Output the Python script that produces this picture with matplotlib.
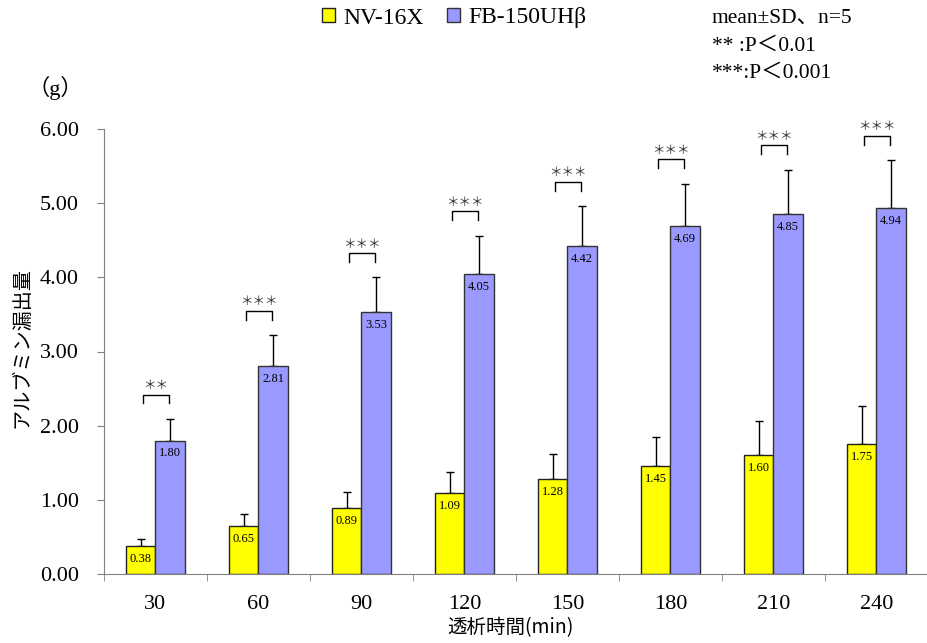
import matplotlib
matplotlib.use('Agg')
import matplotlib.pyplot as plt
import numpy as np

# data
times = ['30', '60', '90', '120', '150', '180', '210', '240']
nv_mean = [0.38, 0.65, 0.89, 1.09, 1.28, 1.45, 1.60, 1.75]
nv_sd = [0.09, 0.16, 0.21, 0.28, 0.34, 0.40, 0.46, 0.51]
fb_mean = [1.80, 2.81, 3.53, 4.05, 4.42, 4.69, 4.85, 4.94]
fb_sd = [0.29, 0.41, 0.47, 0.51, 0.54, 0.57, 0.60, 0.64]
signif = ['＊＊', '＊＊＊', '＊＊＊', '＊＊＊', '＊＊＊', '＊＊＊', '＊＊＊', '＊＊＊']

serif = ['Liberation Serif', 'Noto Sans CJK JP']
gothic = ['Noto Sans CJK JP', 'DejaVu Sans']
plt.rcParams['font.family'] = serif

fig = plt.figure(figsize=(9.28, 6.43), dpi=100)
ax = fig.add_axes([104/928, 69/643, 824/928, 445/643])

x = np.arange(len(times))
w = 0.284
yellow = '#FFFF00'
blue = '#9999FF'

b1 = ax.bar(x - w/2, nv_mean, w, color=yellow, edgecolor='#222222', linewidth=1.0,
            label='NV-16X', zorder=2)
b2 = ax.bar(x + w/2, fb_mean, w, color=blue, edgecolor='#333333', linewidth=1.0,
            label='FB-150UHβ', zorder=2)
ax.errorbar(x - w/2, nv_mean, yerr=[np.zeros(len(x)), nv_sd], fmt='none',
            ecolor='black', elinewidth=1, capsize=3, capthick=1, zorder=1)
ax.errorbar(x + w/2, fb_mean, yerr=[np.zeros(len(x)), fb_sd], fmt='none',
            ecolor='black', elinewidth=1, capsize=3, capthick=1, zorder=1)

for i in range(len(x)):
    ax.annotate('%.2f' % nv_mean[i], (x[i] - w/2, nv_mean[i]), xytext=(0, -5),
                textcoords='offset points', ha='center', va='top', fontsize=9)
    ax.annotate('%.2f' % fb_mean[i], (x[i] + w/2, fb_mean[i]), xytext=(0, -5),
                textcoords='offset points', ha='center', va='top', fontsize=9)
    top = fb_mean[i] + fb_sd[i] + 0.33
    ax.plot([x[i] - 0.12, x[i] - 0.12, x[i] + 0.13, x[i] + 0.13],
            [top - 0.12, top, top, top - 0.12], color='black', linewidth=1)
    ax.text(x[i], top + 0.03, signif[i], ha='center', va='bottom', fontsize=9,
            color='#333333', family=gothic)

ax.set_xlim(-0.5, -0.5 + 824/104)
ax.set_ylim(0, 6)
ax.set_yticks(np.arange(0, 6.01, 1.0))
ax.set_yticklabels(['%.2f' % v for v in np.arange(0, 6.01, 1.0)], fontsize=16)
ax.set_xticks(x)
ax.set_xticklabels(times, fontsize=16)
ax.set_xticks(np.arange(-0.5, 8, 1.0), minor=True)
ax.tick_params(axis='x', which='major', length=0, pad=15)
ax.tick_params(axis='x', which='minor', length=5, color='#808080', direction='out')
ax.tick_params(axis='y', length=5, color='#808080', direction='out', pad=13)
for s in ['top', 'right']:
    ax.spines[s].set_visible(False)
for s in ['left', 'bottom']:
    ax.spines[s].set_color('#808080')

fig.text(22/928, 1 - 347/643, 'アルブミン漏出量', rotation=90, ha='center', va='center',
         fontsize=14.5, family=gothic)
fig.text(510/928, 1 - 628/643, '透析時間(min)', ha='center', va='center',
         fontsize=14, family=gothic)
fig.text(55/928, 1 - 88/643, '（g）', ha='center', va='center', fontsize=16)

fig.legend(handles=[b1, b2], loc='center left', bbox_to_anchor=(322/928, 1 - 18/643),
           ncol=2, frameon=False, handlelength=0.55, handleheight=0.55,
           handletextpad=0.35, columnspacing=1.0, fontsize=17, borderpad=0,
           borderaxespad=0)

fig.text(712/928, 1 - 18/643, 'mean±SD、n=5', ha='left', va='center', fontsize=15.5)
fig.text(712/928, 1 - 46/643, '** :P＜0.01', ha='left', va='center', fontsize=15.5)
fig.text(712/928, 1 - 73/643, '***:P＜0.001', ha='left', va='center', fontsize=15.5)

fig.savefig('out.png', dpi=100)
